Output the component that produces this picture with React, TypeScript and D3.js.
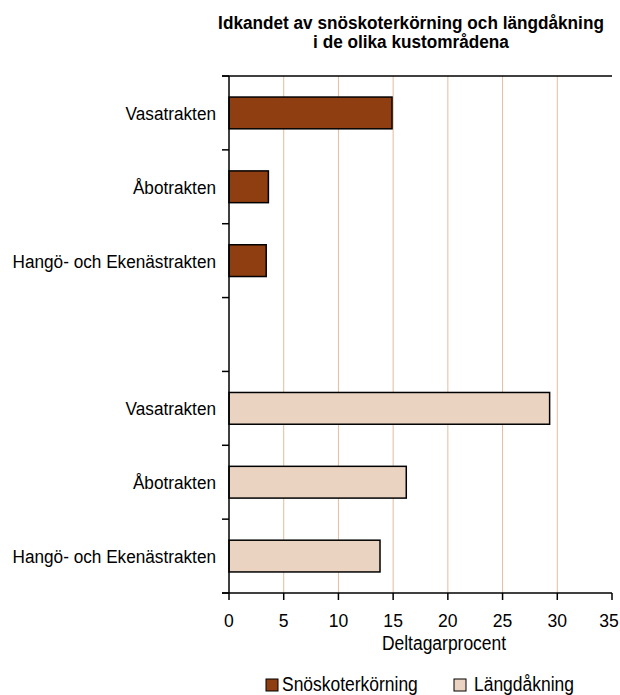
import React from "react";
import * as d3 from "d3";

const title1 = "Idkandet av snöskoterkörning och längdåkning";
const title2 = "i de olika kustområdena";
const regions = ["Vasatrakten", "Åbotrakten", "Hangö- och Ekenästrakten"];
const snoskoter = [14.9, 3.6, 3.4];
const langd = [29.3, 16.2, 13.8];
const seriesNames = ["Snöskoterkörning", "Längdåkning"];
const xTicks = [0, 5, 10, 15, 20, 25, 30, 35];
const xLabel = "Deltagarprocent";

const W = 620;
const H = 695;
const FONT = "'Liberation Sans', Arial, Helvetica, sans-serif";
const colors = ["#8f3e12", "#ebd3c1"];
const gridColor = "#e3bd9e";
const SX = 0.905;

function T(props: {
  x: number;
  y: number;
  size: number;
  anchor?: string;
  bold?: boolean;
  sx?: number;
  children: React.ReactNode;
}) {
  const sx = props.sx ?? SX;
  return (
    <text
      transform={`translate(${props.x},${props.y}) scale(${sx},1)`}
      textAnchor={props.anchor ?? "start"}
      fontSize={props.size}
      fontWeight={props.bold ? "bold" : "normal"}
      fill="#000"
    >
      {props.children}
    </text>
  );
}

export default function App() {
  const rows = [
    ...regions.map((r, i) => ({ key: "s" + i, label: r, value: snoskoter[i], series: 0 })),
    { key: "gap", label: "", value: null as number | null, series: -1 },
    ...regions.map((r, i) => ({ key: "l" + i, label: r, value: langd[i], series: 1 })),
  ];
  const x = d3.scaleLinear().domain([0, 35]).range([229, 612]);
  const y = d3
    .scaleBand<string>()
    .domain(rows.map((r) => r.key))
    .range([76, 593])
    .paddingInner(0.57)
    .paddingOuter(0.285);
  const step = y.step();
  const boundaries = d3.range(rows.length + 1).map((i) => 76 + i * step);
  const x0 = x(0);

  return (
    <svg width={W} height={H} style={{ position: "absolute", left: 0, top: 0 }} fontFamily={FONT}>
      <rect width={W} height={H} fill="#fff" />
      <T x={411} y={29} size={19} anchor="middle" bold>{title1}</T>
      <T x={411} y={48} size={19} anchor="middle" bold>{title2}</T>
      {xTicks.filter((t) => t > 0 && t < 35).map((t) => (
        <line key={"g" + t} x1={x(t)} x2={x(t)} y1={76} y2={593} stroke={gridColor} strokeWidth={1} />
      ))}
      {rows.map((r) =>
        r.value == null ? null : (
          <rect
            key={r.key}
            x={x0}
            y={y(r.key)!}
            width={x(r.value) - x0}
            height={y.bandwidth()}
            fill={colors[r.series]}
            stroke="#000"
            strokeWidth={1.5}
          />
        )
      )}
      {rows.map((r) =>
        r.label ? (
          <T key={"t" + r.key} x={216} y={y(r.key)! + y.bandwidth() / 2 + 7} size={19} anchor="end">
            {r.label}
          </T>
        ) : null
      )}
      <line x1={222} x2={612} y1={76} y2={76} stroke="#000" strokeWidth={1.5} />
      <line x1={222} x2={612} y1={593} y2={593} stroke="#000" strokeWidth={1.5} />
      <line x1={x0} x2={x0} y1={76} y2={593} stroke="#000" strokeWidth={1.5} />
      {boundaries.map((b, i) => (
        <line key={"yt" + i} x1={222} x2={x0} y1={b} y2={b} stroke="#000" strokeWidth={1.5} />
      ))}
      {xTicks.map((t) => (
        <g key={"xt" + t}>
          <line x1={x(t)} x2={x(t)} y1={593} y2={600} stroke="#000" strokeWidth={1.5} />
          <T x={Math.min(x(t), W - 11)} y={627} size={18.5} anchor="middle" sx={0.95}>{t}</T>
        </g>
      ))}
      <T x={444} y={650} size={19.3} anchor="middle">{xLabel}</T>
      {seriesNames.map((n, i) => {
        const lx = i === 0 ? 266 : 454;
        return (
          <g key={n}>
            <rect x={lx} y={679} width={12} height={12} fill={colors[i]} stroke="#000" strokeWidth={1} />
            <T x={i === 0 ? 282 : 474} y={691} size={19.3}>{n}</T>
          </g>
        );
      })}
    </svg>
  );
}
